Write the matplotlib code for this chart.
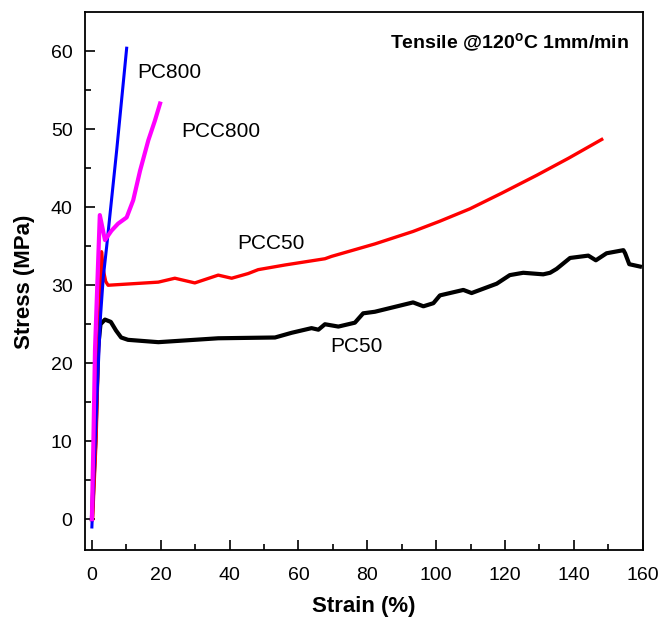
import numpy as np
import matplotlib
matplotlib.use('Agg')
import matplotlib.pyplot as plt

plt.rcParams['font.family'] = ['Liberation Sans', 'DejaVu Sans']
plt.rcParams['mathtext.default'] = 'regular'

# stress-strain curves (strain in %, stress in MPa)
pc50_strain = [0, 1.0, 1.8, 2.5, 3.8, 5.5, 7.0, 8.5, 10.5, 19.3, 36.7, 53.2, 58.0, 63.8, 65.8,
               67.7, 71.6, 76.4, 78.8, 82.2, 93.3, 96.3, 99.2, 101.1, 107.9, 110.3, 117.6,
               121.4, 125.3, 131.1, 133.1, 135.0, 138.9, 144.2, 146.4, 149.5, 154.4, 154.9,
               156.1, 159.2]
pc50_stress = [0, 10.0, 22.0, 25.0, 25.6, 25.3, 24.2, 23.3, 23.0, 22.7, 23.2, 23.3, 23.9, 24.5,
               24.3, 25.0, 24.7, 25.2, 26.4, 26.6, 27.8, 27.3, 27.7, 28.7, 29.4, 29.0, 30.2,
               31.3, 31.6, 31.4, 31.6, 32.1, 33.5, 33.8, 33.2, 34.1, 34.5, 34.1, 32.7, 32.4]

pcc50_strain = [0.2, 1.2, 2.0, 2.8, 3.3, 4.0, 4.7, 19.3, 24.1, 29.9, 36.7, 40.6, 45.4, 48.3,
                56.1, 67.7, 69.6, 82.2, 93.3, 101.0, 109.8, 119.0, 129.2, 138.5, 148.1]
pcc50_stress = [0, 10.0, 23.0, 34.3, 32.0, 30.5, 30.0, 30.4, 30.9, 30.3, 31.3, 30.9, 31.5, 32.0,
                32.6, 33.4, 33.7, 35.3, 36.9, 38.2, 39.8, 41.8, 44.1, 46.3, 48.7]

pc800_strain = [0, 0.5, 1.5, 2.5, 3.3, 4.3, 7.2, 10.1]
pc800_stress = [-1.0, 5.0, 16.0, 26.0, 31.0, 35.0, 47.3, 60.4]

pcc800_strain = [0, 0.4, 0.9, 2.3, 3.8, 5.7, 7.6, 10.1, 12.0, 14.0, 16.4, 18.3, 19.8]
pcc800_stress = [0, 9.0, 21.7, 39.0, 35.8, 37.0, 37.9, 38.7, 40.9, 44.7, 48.6, 51.1, 53.3]

fig = plt.figure(figsize=(6.61, 6.17), dpi=100)
ax = fig.add_axes([0.1286, 0.108, 0.8437, 0.872])

ax.plot(pc50_strain, pc50_stress, color='black', lw=3.0)
ax.plot(pcc50_strain, pcc50_stress, color='#ff0000', lw=2.4)
ax.plot(pc800_strain, pc800_stress, color='#0000ff', lw=2.2)
ax.plot(pcc800_strain, pcc800_stress, color='#ff00ff', lw=3.0)

ax.text(13.1, 57.3, 'PC800', fontsize=15, ha='left', va='center')
ax.text(26.1, 49.7, 'PCC800', fontsize=15, ha='left', va='center')
ax.text(42.1, 35.4, 'PCC50', fontsize=15, ha='left', va='center')
ax.text(69.1, 22.2, 'PC50', fontsize=15, ha='left', va='center')
ax.text(0.975, 0.965, r'Tensile @120$^{o}$C 1mm/min', transform=ax.transAxes,
        fontsize=14, fontweight='bold', ha='right', va='top')

ax.set_xlim(-2, 160)
ax.set_ylim(-4, 65)
ax.set_xticks(np.arange(0, 161, 20))
ax.set_xticks(np.arange(0, 161, 10), minor=True)
ax.set_yticks(np.arange(0, 61, 10))
ax.set_yticks(np.arange(0, 61, 5), minor=True)
ax.tick_params(which='both', direction='in', width=1.2, labelsize=14)
ax.tick_params(which='major', length=7)
ax.tick_params(which='minor', length=4.5)
ax.tick_params(axis='x', pad=12)
ax.tick_params(axis='y', pad=9)
for s in ax.spines.values():
    s.set_linewidth(1.3)

ax.set_xlabel('Strain (%)', fontsize=16, fontweight='bold')
ax.set_ylabel('Stress (MPa)', fontsize=16, fontweight='bold')
ax.xaxis.set_label_coords(0.5, -0.085)
ax.yaxis.set_label_coords(-0.09, 0.5)

plt.savefig('out.png', dpi=100)
